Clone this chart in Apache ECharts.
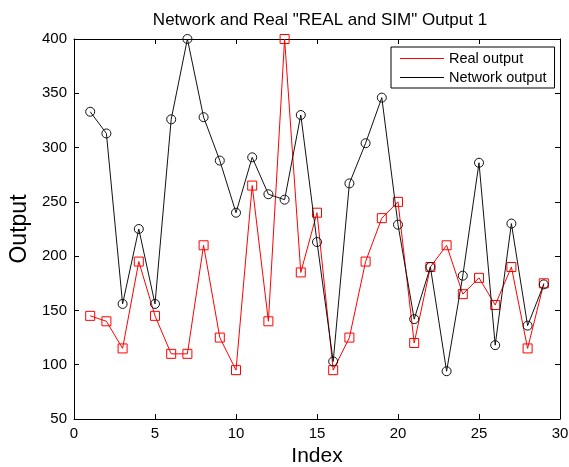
<!DOCTYPE html>
<html>
<head>
<meta charset="utf-8">
<script src="https://cdn.jsdelivr.net/npm/echarts@6/dist/echarts.min.js"></script>
<style>
  html, body { margin: 0; padding: 0; background: #fff; }
  #chart { width: 569px; height: 467px; }
</style>
</head>
<body>
<div id="chart"></div>
<script>
// index 1..29
const indexes = [1, 2, 3, 4, 5, 6, 7, 8, 9, 10, 11, 12, 13, 14, 15, 16, 17, 18, 19, 20, 21, 22, 23, 24, 25, 26, 27, 28, 29];
const realOutput = [145, 140, 115, 195, 145, 110, 110, 210, 125, 95, 265, 140, 400, 185, 240, 95, 125, 195, 235, 250, 120, 190, 210, 165, 180, 155, 190, 115, 175];
const networkOutput = [333, 313, 156, 225, 156, 326, 400, 328, 288, 240, 291, 257, 252, 330, 213, 103, 267, 304, 346, 229, 142, 190, 94, 182, 286, 118, 230, 136, 174];
const seriesNames = ["Real output", "Network output"];

const FONT = "Liberation Sans, Arial, sans-serif";

const pairs = vals => indexes.map((x, i) => [x, vals[i]]);

const chart = echarts.init(document.getElementById("chart"));

const baseAxis = {
  axisLine: { show: true, onZero: false, lineStyle: { color: "#000", width: 1 } },
  axisTick: { show: true, inside: true, length: 5, lineStyle: { color: "#000" } },
  splitLine: { show: false }
};

const option = {
  animation: false,
  backgroundColor: "#fff",
  title: {
    text: 'Network and Real "REAL and SIM" Output 1',
    left: 315,
    textAlign: "center",
    top: 7,
    textStyle: { fontFamily: FONT, fontSize: 17, fontWeight: "normal", color: "#000" }
  },
  grid: { left: 74, right: 9, top: 39, bottom: 48, outerBoundsMode: "none" },
  legend: {
    left: 391,
    top: 47,
    orient: "vertical",
    backgroundColor: "#fff",
    borderColor: "#000",
    borderWidth: 1,
    padding: [4, 8, 3, 9],
    itemGap: 4,
    itemWidth: 44,
    itemHeight: 1,
    icon: "rect",
    itemStyle: { borderWidth: 0 },
    textStyle: { fontFamily: FONT, fontSize: 14.5, color: "#000" },
    data: [
      { name: seriesNames[0], itemStyle: { color: "#ff0000", borderWidth: 0 } },
      { name: seriesNames[1], itemStyle: { color: "#000", borderWidth: 0 } }
    ]
  },
  xAxis: [
    Object.assign({}, baseAxis, {
      type: "value", min: 0, max: 30, interval: 5, position: "bottom",
      axisLabel: { fontFamily: FONT, fontSize: 15, color: "#000", margin: 7 },
      name: "Index", nameLocation: "middle", nameGap: 27,
      nameTextStyle: { fontFamily: FONT, fontSize: 21, color: "#000" }
    }),
    Object.assign({}, baseAxis, {
      type: "value", min: 0, max: 30, interval: 5, position: "top",
      axisLabel: { show: false }
    })
  ],
  yAxis: [
    Object.assign({}, baseAxis, {
      type: "value", min: 50, max: 400, interval: 50, position: "left",
      axisLabel: { fontFamily: FONT, fontSize: 15, color: "#000", margin: 7 },
      name: "Output", nameLocation: "middle", nameGap: 43,
      nameTextStyle: { fontFamily: FONT, fontSize: 23, color: "#000" }
    }),
    Object.assign({}, baseAxis, {
      type: "value", min: 50, max: 400, interval: 50, position: "right",
      axisLabel: { show: false }
    })
  ],
  series: [
    {
      name: seriesNames[0],
      type: "line",
      data: pairs(realOutput),
      symbol: "rect",
      symbolSize: 9,
      lineStyle: { color: "#ff0000", width: 1 },
      itemStyle: { color: "rgba(0,0,0,0)", borderColor: "#ff0000", borderWidth: 1 },
      z: 2
    },
    {
      name: seriesNames[1],
      type: "line",
      data: pairs(networkOutput),
      symbol: "circle",
      symbolSize: 9,
      lineStyle: { color: "#111", width: 1 },
      itemStyle: { color: "rgba(0,0,0,0)", borderColor: "#111", borderWidth: 1 },
      z: 3
    }
  ]
};

chart.setOption(option);
</script>
</body>
</html>
